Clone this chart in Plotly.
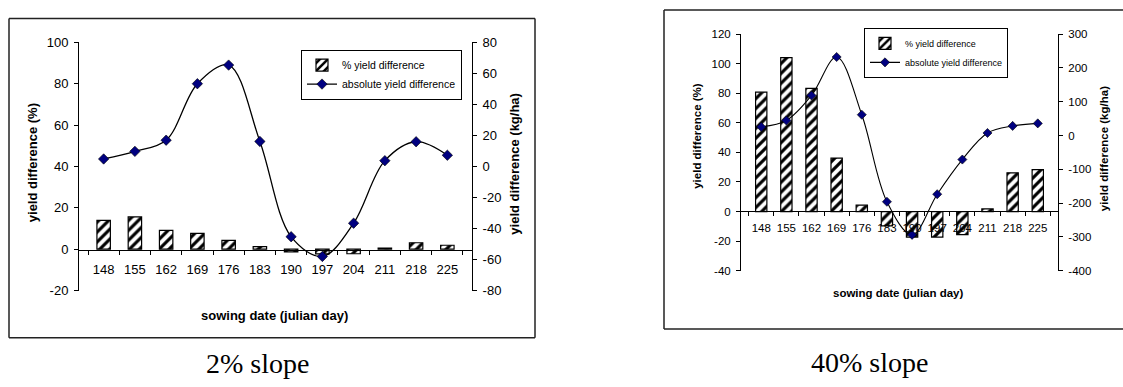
import plotly.graph_objects as go

# ---------------- data ----------------
sowing_days = ["148", "155", "162", "169", "176", "183", "190", "197", "204", "211", "218", "225"]

pct_diff_2 = [13.9, 15.6, 9.1, 7.6, 4.3, 1.2, -1.3, -2.3, -2.2, 0.5, 3.1, 1.9]
abs_diff_2 = [4.8, 9.7, 16.9, 53.3, 65.3, 16.1, -45.3, -58.0, -36.6, 3.7, 15.9, 7.2]

pct_diff_40 = [80.8, 104.2, 83.4, 36.2, 4.3, -9.7, -17.3, -17.3, -15.6, 1.8, 26.2, 28.3]
abs_diff_40 = [25.6, 44.6, 118.7, 232.5, 61.7, -196.0, -294.0, -173.6, -71.0, 7.6, 28.5, 36.0]

left_ticks_2 = [-20, 0, 20, 40, 60, 80, 100]
right_ticks_2 = [-80, -60, -40, -20, 0, 20, 40, 60, 80]
left_ticks_40 = [-40, -20, 0, 20, 40, 60, 80, 100, 120]
right_ticks_40 = [-400, -300, -200, -100, 0, 100, 200, 300]

bar_name = "% yield difference"
line_name = "absolute yield difference"
x_title = "sowing date (julian day)"
y_left_title = "yield difference (%)"
y_right_title = "yield difference (kg/ha)"
captions = ["2% slope", "40% slope"]

W, H = 1123, 387
def px(x): return x / W
def py(y): return 1 - y / H

FONT = "Liberation Sans, Arial, sans-serif"
SERIF = "Liberation Serif, Times New Roman, serif"

fig = go.Figure()

bar_pattern = dict(shape="/", fgcolor="black", bgcolor="white", size=7, solidity=0.45, fgopacity=1)

# left panel (2% slope)
fig.add_trace(go.Bar(x=sowing_days, y=pct_diff_2, name=bar_name, xaxis="x", yaxis="y", opacity=1,
                     marker=dict(color="white", line=dict(color="black", width=1.2), pattern=bar_pattern),
                     width=0.43, legend="legend"))
fig.add_trace(go.Scatter(x=sowing_days, y=abs_diff_2, name=line_name, xaxis="x", yaxis="y2",
                         mode="lines+markers", line=dict(color="black", width=1.3, shape="spline", smoothing=1.0),
                         marker=dict(symbol="diamond", size=8, color="#000080", line=dict(color="black", width=0.6)),
                         legend="legend"))
# right panel (40% slope)
fig.add_trace(go.Bar(x=sowing_days, y=pct_diff_40, name=bar_name, xaxis="x2", yaxis="y3", opacity=1,
                     marker=dict(color="white", line=dict(color="black", width=1.2), pattern=bar_pattern),
                     width=0.45, legend="legend2"))
fig.add_trace(go.Scatter(x=sowing_days, y=abs_diff_40, name=line_name, xaxis="x2", yaxis="y4",
                         mode="lines+markers", line=dict(color="black", width=1.1, shape="spline", smoothing=1.0),
                         marker=dict(symbol="diamond", size=7, color="#000080", line=dict(color="black", width=0.6)),
                         legend="legend2"))

def xax(domain, pos, size, standoff):
    return dict(type="category", domain=domain, anchor="free", position=pos,
                showline=True, linecolor="black", linewidth=1, showgrid=False, zeroline=False,
                ticks="outside", ticklen=4, tickcolor="black", tickson="boundaries", tickangle=0,
                tickfont=dict(family=FONT, size=size, color="black"), ticklabelstandoff=standoff,
                fixedrange=True)

def yax(rng, ticks, size, side="left", overlay=None, anchor="x", domain=None):
    d = dict(range=rng, tickmode="array", tickvals=ticks, ticktext=[str(t) for t in ticks],
             side=side, anchor=anchor,
             showline=True, linecolor="black", linewidth=1, showgrid=False, zeroline=False,
             ticks="outside", ticklen=4, tickcolor="black",
             tickfont=dict(family=FONT, size=size, color="black"), ticklabelstandoff=3)
    if overlay:
        d["overlaying"] = overlay
    if domain:
        d["domain"] = domain
    return d

# left panel geometry
L_x0, L_x1, L_top, L_bot = 79, 472, 36.7, 295
# right panel geometry
R_x0, R_x1, R_top, R_bot = 741, 1058, 28.3, 274.3

fig.update_layout(
    width=W, height=H, margin=dict(l=0, r=0, t=0, b=0),
    paper_bgcolor="white", plot_bgcolor="rgba(0,0,0,0)",
    font=dict(family=FONT, color="black"),
    xaxis=xax([px(L_x0), px(L_x1)], py(252.3), 13, 8),
    yaxis=yax([-20, 100], left_ticks_2, 13, domain=[py(L_bot), py(L_top)]),
    yaxis2=yax([-80, 80], right_ticks_2, 13, side="right", overlay="y"),
    xaxis2=xax([px(R_x0), px(R_x1)], py(212.7), 11.5, 6),
    yaxis3=yax([-40, 120], left_ticks_40, 11.5, anchor="x2", domain=[py(R_bot), py(R_top)]),
    yaxis4=yax([-400, 300], right_ticks_40, 11.5, side="right", overlay="y3", anchor="x2"),
    legend=dict(x=px(301), y=py(44.3), xanchor="left", yanchor="top",
                bgcolor="white", bordercolor="black", borderwidth=1,
                font=dict(family=FONT, size=10.5, color="black"), tracegroupgap=0),
    legend2=dict(x=px(864), y=py(21.7), xanchor="left", yanchor="top",
                 bgcolor="white", bordercolor="black", borderwidth=1,
                 font=dict(family=FONT, size=9, color="black"), tracegroupgap=0),
    showlegend=True,
)

# frame boxes
box = dict(type="line", xref="paper", yref="paper", line=dict(color="#222222", width=1.5))
# left box
fig.add_shape(x0=px(9), x1=px(535), y0=py(12), y1=py(12), **box)
fig.add_shape(x0=px(9), x1=px(535), y0=py(344), y1=py(344), **box)
fig.add_shape(x0=px(9), x1=px(9), y0=py(12), y1=py(344), **box)
fig.add_shape(x0=px(535), x1=px(535), y0=py(12), y1=py(344), **box)
# right box (runs off the right edge)
fig.add_shape(x0=px(664), x1=1.01, y0=py(3), y1=py(3), **box)
fig.add_shape(x0=px(664), x1=1.01, y0=py(335), y1=py(335), **box)
fig.add_shape(x0=px(664), x1=px(664), y0=py(3), y1=py(335), **box)

def ann(text, x, y, size, angle=0, bold=True, family=FONT):
    fig.add_annotation(text=f"<b>{text}</b>" if bold else text, x=px(x), y=py(y),
                       xref="paper", yref="paper", xanchor="center", yanchor="middle",
                       showarrow=False, textangle=angle,
                       font=dict(family=family, size=size, color="black"))

# left panel titles
ann(y_left_title, 32, 162.5, 13, -90)
ann(y_right_title, 515, 163, 13, -90)
ann(x_title, 274, 321, 13)
ann(captions[0], 257.5, 371, 28, bold=False, family=SERIF)
# right panel titles
ann(y_left_title, 697, 134, 11.5, -90)
ann(y_right_title, 1104, 148, 11.5, -90)
ann(x_title, 898.5, 298, 11.5)
ann(captions[1], 869, 370, 28, bold=False, family=SERIF)

fig.write_html("out.html")
